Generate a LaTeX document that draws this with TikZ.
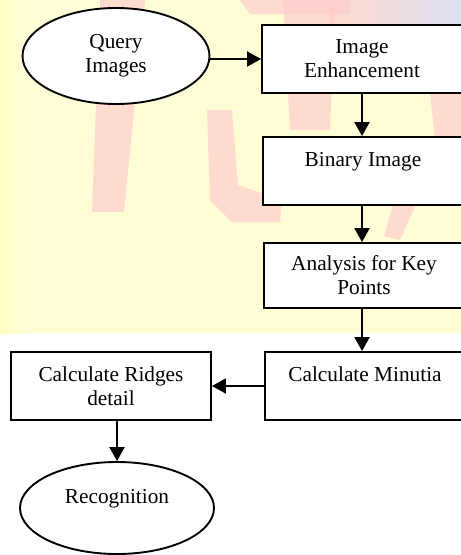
\documentclass[tikz,border=0pt]{standalone}
\usepackage{fontspec}
\setmainfont{Liberation Serif}
\usetikzlibrary{shapes.geometric,arrows.meta}
\definecolor{bgyellow}{RGB}{255,253,214}
\definecolor{edgeyellow}{RGB}{255,255,196}
\definecolor{wmpink}{RGB}{255,204,204}
\definecolor{wmblue}{RGB}{208,212,255}
\tikzset{
  stepbox/.style={draw, line width=1.9pt, fill=white, minimum width=200pt,
    minimum height=68pt, inner sep=0pt, align=center,
    font=\fontsize{21.3pt}{24pt}\selectfont},
  terminal/.style={draw, ellipse, line width=1.9pt, fill=white, inner sep=0pt,
    align=center, font=\fontsize{21.3pt}{24pt}\selectfont},
  flow/.style={line width=1.9pt, -{Triangle[length=14pt,width=15pt]}},
}
\begin{document}
\begin{tikzpicture}[x=1pt,y=-1pt]
\useasboundingbox (0,0) rectangle (461,555);
% page background with its faded watermark
\fill[white] (0,0) rectangle (461,555);
\fill[bgyellow] (0,0) rectangle (461,333);
\shade[left color=edgeyellow, right color=bgyellow] (0,0) rectangle (25,333);
\begin{scope}[opacity=0.7]
  \fill[wmpink] (100,0) -- (145,0) -- (124,212) -- (92,212) -- cycle;
  \fill[wmpink] (207,110) -- (232,110) -- (238,185) -- (282,200) -- (280,222)
                -- (232,222) -- (210,200) -- cycle;
  \fill[wmpink] (283,0) -- (335,0) -- (330,130) -- (290,130) -- cycle;
  \fill[wmpink] (240,0) -- (350,0) -- (350,14) -- (250,14) -- cycle;
  \shade[left color=wmpink, right color=wmblue] (330,0) rectangle (461,24);
  \fill[wmpink] (430,93) -- (461,93) -- (461,140) -- (435,140) -- cycle;
  \fill[wmpink] (395,198) -- (416,204) -- (400,240) -- (384,236) -- cycle;
\end{scope}

% flow chart
\node[terminal, minimum width=187pt, minimum height=96pt] (q) at (116,56) {Query\\Images};
\node[stepbox] (enh) at (362,59) {Image\\Enhancement};
\node[stepbox] (bin) at (363,171) {Binary Image\\\mbox{}};
\node[stepbox, minimum height=65pt] (ana) at (364,275.5) {Analysis for Key\\Points};
\node[stepbox] (mnt) at (365,386) {Calculate Minutia\\\mbox{}};
\node[stepbox] (rdg) at (111,386) {Calculate Ridges\\detail};
\node[terminal, minimum width=194pt, minimum height=92pt] (rec) at (117,508) {Recognition\\\mbox{}};

\draw[flow] (enh.west -| q.east) -- (enh.west);
\draw[flow] (enh.south) -- (enh.south |- bin.north);
\draw[flow] (bin.south -| enh.south) -- (enh.south |- ana.north);
\draw[flow] (ana.south -| enh.south) -- (enh.south |- mnt.north);
\draw[flow] (mnt.west) -- (rdg.east);
\draw[flow] (rec.north |- rdg.south) -- (rec.north);
\end{tikzpicture}
\end{document}
